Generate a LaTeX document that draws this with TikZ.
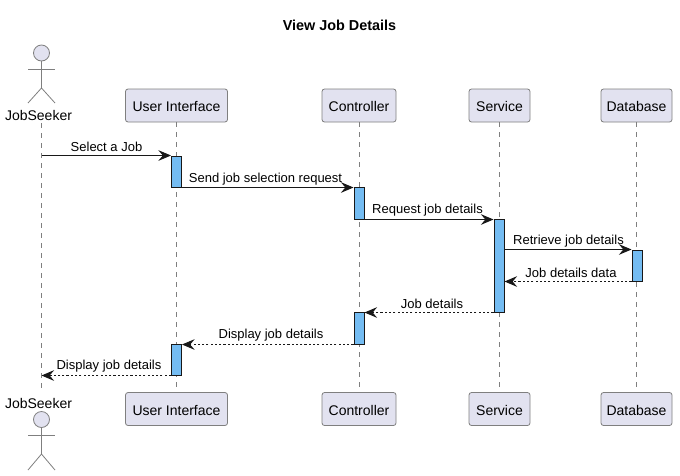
\documentclass[tikz,border=0pt]{standalone}
\usepackage{fontspec}
\setmainfont{Liberation Sans}
\usetikzlibrary{arrows.meta,calc}
\definecolor{partfill}{HTML}{E2E2F0}
\definecolor{partline}{HTML}{7F7F7F}
\definecolor{actfill}{HTML}{74BCF2}
\definecolor{inkline}{HTML}{181818}
\tikzset{
  x=0.75pt,y=-0.75pt,
  part/.style={draw=partline,fill=partfill,rounded corners=1.9pt,line width=0.6pt,minimum height=24.75pt,inner sep=0pt,text height=9.7pt,text depth=0pt,font=\fontsize{10.5pt}{12pt}\selectfont,text=black},
  life/.style={draw=partline,line width=0.6pt,dash pattern=on 3.75pt off 3.75pt},
  actv/.style={draw=inkline,fill=actfill,line width=0.75pt,minimum width=7.5pt,inner sep=0pt},
  head/.style={circle,draw=partline,fill=partfill,line width=0.6pt,minimum size=12pt,inner sep=0pt},
  stick/.style={draw=partline,line width=0.6pt},
  actorname/.style={inner sep=0pt,font=\fontsize{10.5pt}{12pt}\selectfont},
  msg/.style={draw=inkline,line width=0.75pt,-{Stealth[length=9.5pt,width=8pt,inset=3.4pt]}},
  ret/.style={msg,dash pattern=on 1.6pt off 1.6pt},
  lbl/.style={inner sep=0pt,font=\fontsize{9.75pt}{11pt}\selectfont},
  ttl/.style={inner sep=0pt,font=\bfseries\fontsize{10.8pt}{12pt}\selectfont}
}
\newcommand{\actv}[4]{\node[actv,minimum height=#4*0.75pt] (#1) at (#2,#3) {};}
\begin{document}
\begin{tikzpicture}
\useasboundingbox (0,0) rectangle (680,475);
\node[ttl] (title) at (339.5,25) {View Job Details};
% top participants
\node[actorname] (ja) at (38.5,115) {JobSeeker};
\node[part,minimum width=76.5pt] (ua) at (176.5,105.5) {User Interface};
\node[part,minimum width=55.5pt] (ca) at (359,105.5) {Controller};
\node[part,minimum width=45.75pt] (sa) at (499.5,105.5) {Service};
\node[part,minimum width=53.25pt] (da) at (636.5,105.5) {Database};
% bottom participants
\node[actorname] (jb) at (38.5,403) {JobSeeker};
\node[part,minimum width=76.5pt] (ub) at (176.5,409) {User Interface};
\node[part,minimum width=55.5pt] (cb) at (359,409) {Controller};
\node[part,minimum width=45.75pt] (sb) at (499.5,409) {Service};
\node[part,minimum width=53.25pt] (db) at (636.5,409) {Database};
% actor lifeline ends
\coordinate (jt) at (41.5,123);
\coordinate (je) at (41.5,392);
% lifelines
\draw[life] (jt) -- (je);
\draw[life] (ua) -- (ub);
\draw[life] (ca) -- (cb);
\draw[life] (sa) -- (sb);
\draw[life] (da) -- (db);
% actors
\node[head] (ht) at (41.5,53) {};
\coordinate (bt) at (41.5,88);
\draw[stick] (ht) -- (bt);
\draw[stick] (28,69) -- (55,69);
\draw[stick] (28,103) -- (bt) -- (55,103);
\node[head] (hb) at (41.5,419.5) {};
\coordinate (bb) at (41.5,454);
\draw[stick] (hb) -- (bb);
\draw[stick] (28,435) -- (55,435);
\draw[stick] (28,470) -- (bb) -- (55,470);
% activations
\actv{a1}{176.5}{171.5}{31}
\actv{a2}{359}{203}{32}
\actv{a3}{499}{265.5}{93}
\actv{a4}{637}{265.5}{31}
\actv{a5}{359}{328}{32}
\actv{a6}{176.5}{359.5}{31}
% messages
\draw[msg] (jt |- a1.north) -- (a1.north west);
\draw[msg] (a1.south east) -- (a2.west |- a1.south);
\draw[msg] (a2.south east) -- (a3.west |- a2.south);
\draw[msg] (a3.east |- a4.north) -- (a4.north west);
\draw[ret] (a4.south west) -- (a3.east |- a4.south);
\draw[ret] (a3.south west) -- (a5.east |- a3.south);
\draw[ret] (a5.south west) -- (a6.east |- a5.south);
\draw[ret] (a6.south west) -- (jt |- a6.south);
% labels
\node[lbl] (l1) at (106.5,147) {Select a Job};
\node[lbl] (l2) at (265.5,179) {Send job selection request};
\node[lbl] (l3) at (427.5,210) {Request job details};
\node[lbl] (l4) at (568.5,241.5) {Retrieve job details};
\node[lbl] (l5) at (571,272.5) {Job details data};
\node[lbl] (l6) at (432,304) {Job details};
\node[lbl] (l7) at (271,335) {Display job details};
\node[lbl] (l8) at (109,366.5) {Display job details};
\end{tikzpicture}
\end{document}
